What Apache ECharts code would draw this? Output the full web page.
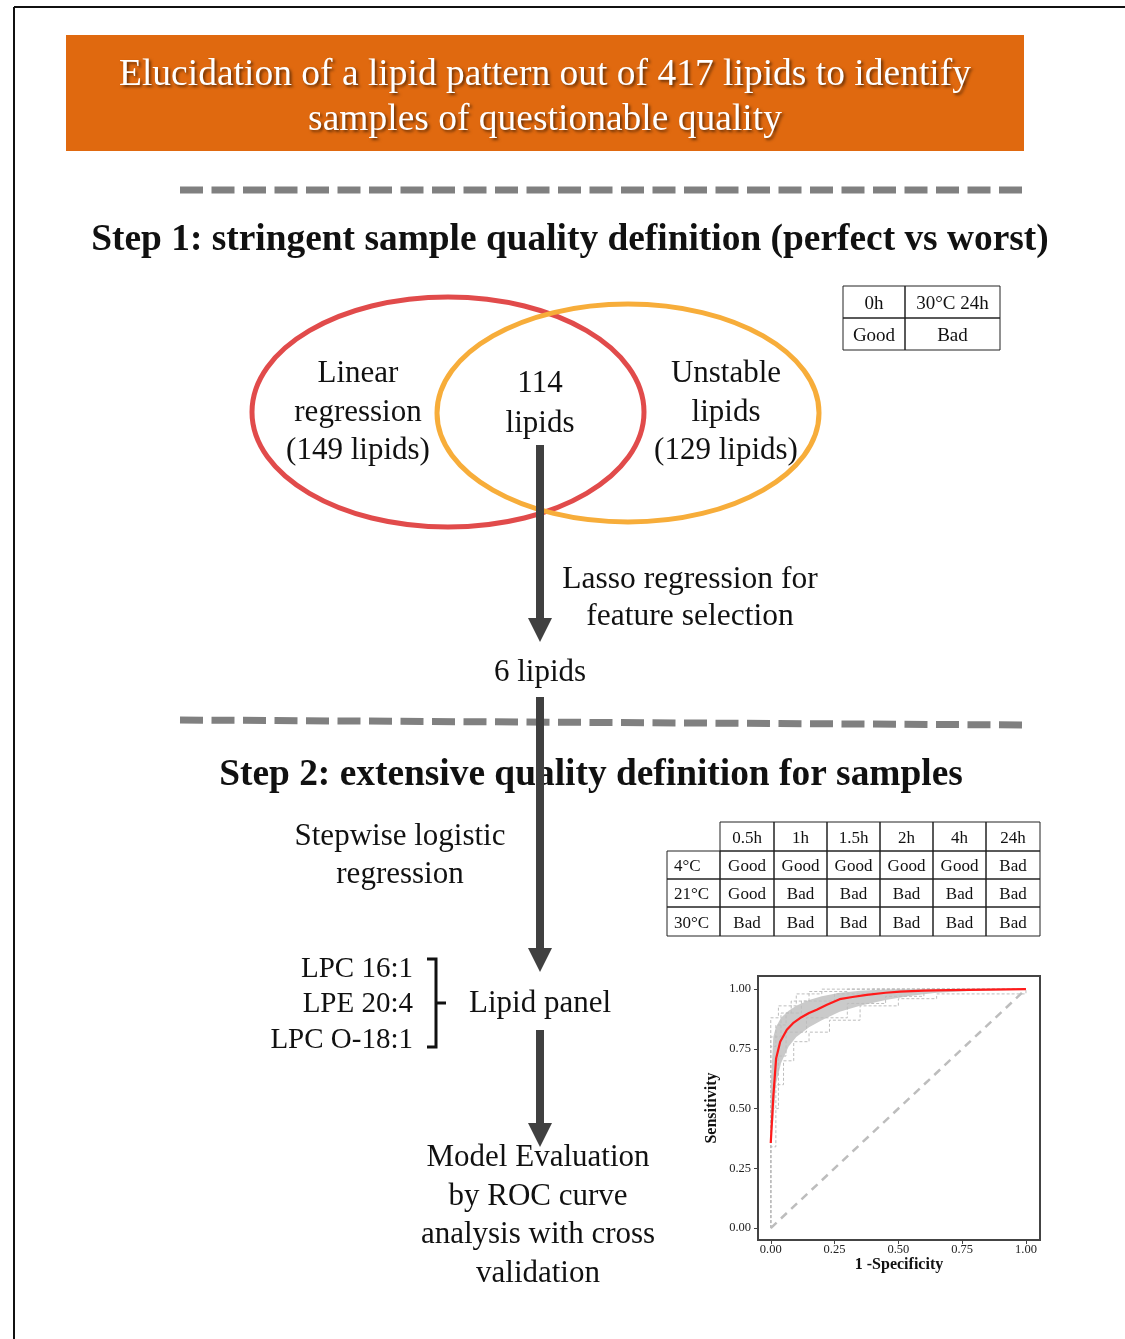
<!DOCTYPE html>
<html>
<head>
<meta charset="utf-8">
<script src="https://cdn.jsdelivr.net/npm/echarts@6/dist/echarts.min.js"></script>
</head>
<body style="margin:0;background:#fff">
<div id="container" style="width:1125px;height:1339px"></div>
<script>
// ---- texts ----
var titleLines = ['Elucidation of a lipid pattern out of 417 lipids to identify', 'samples of questionable quality'];
var step1Title = 'Step 1: stringent sample quality definition (perfect vs worst)';
var step2Title = 'Step 2: extensive quality definition for samples';
var linearLabel = ['Linear', 'regression', '(149 lipids)'];
var overlapLabel = ['114', 'lipids'];
var unstableLabel = ['Unstable', 'lipids', '(129 lipids)'];
var lassoLabel = ['Lasso regression for', 'feature selection'];
var sixLabel = '6 lipids';
var stepwiseLabel = ['Stepwise logistic', 'regression'];
var panelLipids = ['LPC 16:1', 'LPE 20:4', 'LPC O-18:1'];
var panelLabel = 'Lipid panel';
var evalLabel = ['Model Evaluation', 'by ROC curve', 'analysis with cross', 'validation'];

// ---- quality tables ----
var step1Head = ['0h', '30°C 24h'];
var step1Row = ['Good', 'Bad'];
var timePoints = ['0.5h', '1h', '1.5h', '2h', '4h', '24h'];
var temps = ['4°C', '21°C', '30°C'];
var quality = [
    ['Good', 'Good', 'Good', 'Good', 'Good', 'Bad'],
    ['Good', 'Bad', 'Bad', 'Bad', 'Bad', 'Bad'],
    ['Bad', 'Bad', 'Bad', 'Bad', 'Bad', 'Bad']
];

// ---- ROC data ----
var rocTicks = [0, 0.25, 0.5, 0.75, 1];
var meanFpr = [0, 0.01, 0.021, 0.037, 0.063, 0.09, 0.115, 0.15, 0.18, 0.22, 0.27, 0.32, 0.376, 0.45, 0.507, 0.6, 0.7, 0.85, 1];
var meanTpr = [0.356, 0.55, 0.71, 0.78, 0.83, 0.86, 0.879, 0.9, 0.914, 0.935, 0.958, 0.967, 0.976, 0.985, 0.99, 0.994, 0.996, 0.998, 1];
var bandFpr = [0, 0.01, 0.02, 0.04, 0.07, 0.1, 0.15, 0.2, 0.27, 0.35, 0.45, 0.55, 0.65, 0.8, 1];
var bandHigh = [0.6, 0.8, 0.84, 0.88, 0.91, 0.93, 0.955, 0.97, 0.985, 0.993, 0.998, 1, 1, 1, 1];
var bandLow = [0.36, 0.45, 0.6, 0.69, 0.76, 0.8, 0.84, 0.87, 0.905, 0.93, 0.955, 0.972, 0.985, 0.993, 0.997];
var cvCurves = [
    [[0, 0], [0, 0.88], [0.03, 0.88], [0.03, 0.93], [0.1, 0.93], [0.1, 0.98], [0.2, 0.98], [0.2, 1], [1, 1]],
    [[0, 0], [0, 0.76], [0.02, 0.76], [0.02, 0.85], [0.06, 0.85], [0.06, 0.9], [0.12, 0.9], [0.12, 0.95], [0.25, 0.95], [0.25, 0.98], [0.4, 0.98], [0.4, 1], [1, 1]],
    [[0, 0], [0, 0.34], [0.02, 0.34], [0.02, 0.6], [0.05, 0.6], [0.05, 0.7], [0.09, 0.7], [0.09, 0.78], [0.15, 0.78], [0.15, 0.82], [0.23, 0.82], [0.23, 0.87], [0.35, 0.87], [0.35, 0.93], [0.5, 0.93], [0.5, 0.96], [0.65, 0.96], [0.65, 0.98], [1, 0.98], [1, 1]],
    [[0, 0], [0, 0.5], [0.03, 0.5], [0.03, 0.72], [0.06, 0.72], [0.06, 0.82], [0.14, 0.82], [0.14, 0.88], [0.3, 0.88], [0.3, 0.94], [0.45, 0.94], [0.45, 0.97], [0.6, 0.97], [0.6, 1], [1, 1]],
    [[0, 0], [0, 0.8], [0.04, 0.8], [0.04, 0.9], [0.08, 0.9], [0.08, 0.95], [0.15, 0.95], [0.15, 0.99], [0.3, 0.99], [0.3, 1], [1, 1]]
];

var SERIF = '"Liberation Serif", "Times New Roman", serif';
var dark = '#404040';

function txt(x, y, s, size, extra) {
    return {
        type: 'text', x: x, y: y + 3, z: 10,
        style: Object.assign({
            text: s, font: size + 'px ' + SERIF, fill: '#111',
            align: 'center', verticalAlign: 'middle'
        }, extra || {})
    };
}
function lines(x, y0, step, arr, size, extra) {
    return arr.map(function (s, i) { return txt(x, y0 + i * step, s, size, extra); });
}
function arrow(x, y1, y2) {
    return [
        { type: 'line', z: 20, shape: { x1: x, y1: y1, x2: x, y2: y2 - 20 }, style: { stroke: dark, lineWidth: 8 } },
        { type: 'polygon', z: 20, shape: { points: [[x - 12, y2 - 24], [x + 12, y2 - 24], [x, y2]] }, style: { fill: dark } }
    ];
}
function dashes(x1, y1, x2, y2) {
    return { type: 'line', z: 5, shape: { x1: x1, y1: y1, x2: x2, y2: y2 }, style: { stroke: '#808080', lineWidth: 7, lineDash: [23, 8.5] } };
}
function cell(x, y, w, h, s, size) {
    return [
        { type: 'rect', z: 5, shape: { x: x, y: y, width: w, height: h }, style: { fill: 'none', stroke: '#222', lineWidth: 1 } },
        txt(x + w / 2, y + h / 2 - 1, s, size)
    ];
}

var g = [];
// page frame
g.push({ type: 'line', shape: { x1: 14, y1: 7, x2: 1125, y2: 7 }, style: { stroke: '#111', lineWidth: 2 } });
g.push({ type: 'line', shape: { x1: 14, y1: 7, x2: 14, y2: 1339 }, style: { stroke: '#111', lineWidth: 2 } });
// banner
g.push({ type: 'rect', shape: { x: 66, y: 35, width: 958, height: 116 }, style: { fill: '#E0690F' } });
g = g.concat(lines(545, 72, 45, titleLines, 37.5, {
    fill: '#fff', textShadowColor: 'rgba(0,0,0,0.55)', textShadowBlur: 3, textShadowOffsetX: 2, textShadowOffsetY: 2
}));
g.push(dashes(180, 190, 1028, 190));
g.push(txt(570, 237, step1Title, 37, { font: 'bold 37.4px ' + SERIF }));

// venn
g.push({ type: 'ellipse', z: 6, shape: { cx: 448, cy: 412, rx: 196, ry: 115 }, style: { fill: 'none', stroke: '#E14B4B', lineWidth: 5 } });
g.push({ type: 'ellipse', z: 7, shape: { cx: 628, cy: 413, rx: 191, ry: 109 }, style: { fill: 'none', stroke: '#F7AD3A', lineWidth: 5 } });
g = g.concat(lines(358, 371, 38.5, linearLabel, 31));
g = g.concat(lines(540, 381, 40, overlapLabel, 31));
g = g.concat(lines(726, 371, 38.5, unstableLabel, 31));

// step1 table
var c1 = [843, 905, 1000];
step1Head.forEach(function (s, i) {
    g = g.concat(cell(c1[i], 286, c1[i + 1] - c1[i], 32, s, 19));
    g = g.concat(cell(c1[i], 318, c1[i + 1] - c1[i], 32, step1Row[i], 19));
});

g = g.concat(arrow(540, 445, 642));
g = g.concat(lines(690, 577, 37, lassoLabel, 31.5));
g.push(txt(540, 670, sixLabel, 31));
g.push(dashes(180, 720, 1026, 725));
g.push(txt(591, 772, step2Title, 37, { font: 'bold 37.4px ' + SERIF }));
g = g.concat(arrow(540, 697, 972));
g = g.concat(lines(400, 834, 38, stepwiseLabel, 31));

// step2 table
var colX = [667, 720, 774, 827, 880, 933, 986, 1040];
var rowY = [822, 851, 879, 907, 936];
timePoints.forEach(function (s, j) {
    g = g.concat(cell(colX[j + 1], rowY[0], colX[j + 2] - colX[j + 1], rowY[1] - rowY[0], s, 17));
});
temps.forEach(function (t, i) {
    var y = rowY[i + 1], h = rowY[i + 2] - rowY[i + 1];
    var c = cell(colX[0], y, colX[1] - colX[0], h, t, 17);
    c[1].style.align = 'left';
    c[1].x = colX[0] + 7;
    g = g.concat(c);
    quality[i].forEach(function (q, j) {
        g = g.concat(cell(colX[j + 1], y, colX[j + 2] - colX[j + 1], h, q, 17));
    });
});

// lipid panel + bracket
panelLipids.forEach(function (s, i) {
    g.push(txt(413, 966 + i * 35.5, s, 29, { align: 'right' }));
});
g.push({ type: 'polyline', z: 10, shape: { points: [[427, 959], [436, 959], [436, 1047], [427, 1047]] }, style: { fill: 'none', stroke: '#111', lineWidth: 3 } });
g.push({ type: 'line', z: 10, shape: { x1: 436, y1: 1003, x2: 446, y2: 1003 }, style: { stroke: '#111', lineWidth: 3 } });
g.push(txt(540, 1001, panelLabel, 31));
g = g.concat(arrow(540, 1030, 1147));
g = g.concat(lines(538, 1155, 38.5, evalLabel, 31));

var chart = echarts.init(document.getElementById('container'));

var series = [];
series.push({
    type: 'custom', silent: true, z: 1,
    data: [[bandFpr[0], bandLow[0]]],
    renderItem: function (params, api) {
        var pts = [];
        for (var i = 0; i < bandFpr.length; i++) pts.push(api.coord([bandFpr[i], bandHigh[i]]));
        for (var k = bandFpr.length - 1; k >= 0; k--) pts.push(api.coord([bandFpr[k], bandLow[k]]));
        return { type: 'polygon', shape: { points: pts }, style: { fill: '#cacaca' } };
    }
});
cvCurves.forEach(function (c) {
    series.push({
        type: 'line', data: c, showSymbol: false, silent: true, z: 2,
        lineStyle: { color: '#bdbdbd', width: 1, type: [3, 2] }
    });
});
series.push({
    type: 'line', data: [[0, 0], [1, 1]], showSymbol: false, silent: true, z: 3,
    lineStyle: { color: '#bdbdbd', width: 2.5, type: [8, 6] }
});
series.push({
    type: 'line', data: meanFpr.map(function (x, i) { return [x, meanTpr[i]]; }),
    showSymbol: false, silent: true, z: 4,
    lineStyle: { color: '#ff1a1a', width: 2.2 }
});

function rocAxis(name, gap, margin) {
    return {
        type: 'value', min: -0.05, max: 1.055,
        name: name, nameLocation: 'middle', nameGap: gap,
        nameTextStyle: { fontFamily: SERIF, fontWeight: 'bold', fontSize: 16, color: '#111' },
        axisLine: { show: false, onZero: false },
        axisTick: { show: true, customValues: rocTicks, length: 4, lineStyle: { color: '#444' } },
        axisLabel: {
            customValues: rocTicks, fontFamily: SERIF, fontSize: 12.5, color: '#222', margin: margin,
            formatter: function (v) { return v.toFixed(2); }
        },
        splitLine: { show: false }
    };
}

var option = {
    animation: false,
    backgroundColor: '#fff',
    grid: { left: 758, top: 976, width: 282, height: 264, show: true, borderColor: '#444', borderWidth: 2, backgroundColor: '#fff' },
    xAxis: rocAxis('1 -Specificity', 17, 3),
    yAxis: rocAxis('Sensitivity', 38, 7),
    graphic: { elements: g },
    series: series
};
chart.setOption(option);
</script>
</body>
</html>
